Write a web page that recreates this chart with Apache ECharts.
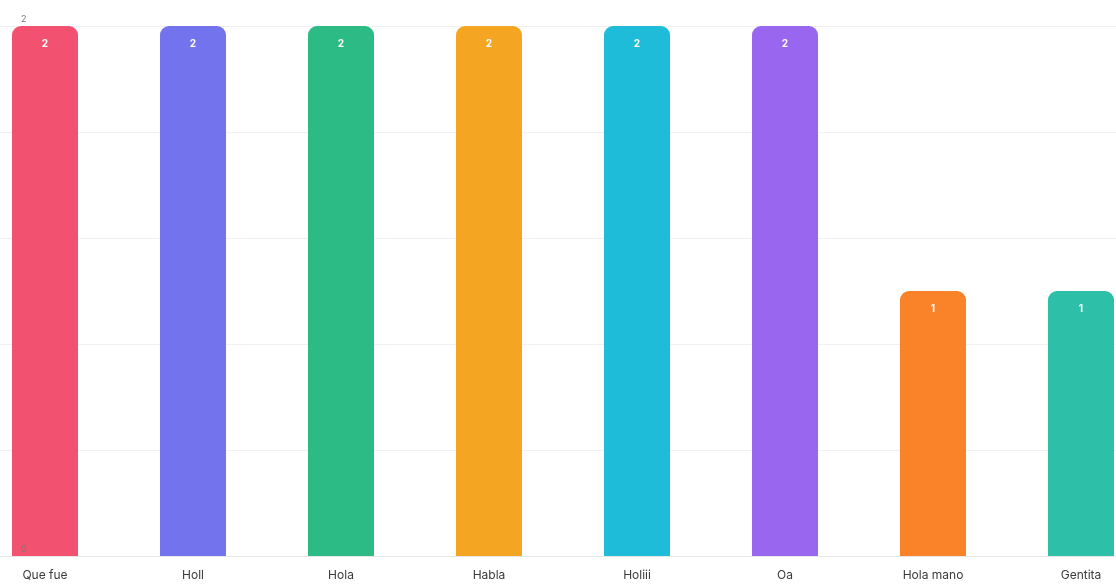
<!DOCTYPE html>
<html>
<head>
<meta charset="utf-8">
<script src="https://cdn.jsdelivr.net/npm/echarts@6/dist/echarts.min.js"></script>
<style>
  html, body { margin: 0; padding: 0; background: #ffffff; overflow: hidden; }
  #wrap { width: 1116px; height: 584px; overflow: hidden; position: relative; }
  /* the plot is wider than the view; first and last bands are partly cut off */
  #chart { width: 1184px; height: 584px; position: absolute; left: -29px; top: 0; }
</style>
</head>
<body>
<div id="wrap"><div id="chart"></div></div>
<script>
// Answer counts per greeting
const categories = ['Que fue', 'Holl', 'Hola', 'Habla', 'Holiii', 'Oa', 'Hola mano', 'Gentita'];
const counts = [2, 2, 2, 2, 2, 2, 1, 1];
const barColors = ['#F25270', '#7373EE', '#2CBB84', '#F4A623', '#1EBCD8', '#9966F0', '#FA8228', '#2DBFA8'];
const yMin = 0;
const yMax = 2;
const yStep = 0.4;

const chart = echarts.init(document.getElementById('chart'));

const fontFamily = 'Inter, "Noto Sans", sans-serif';

chart.setOption({
  backgroundColor: '#ffffff',
  animation: false,
  grid: { left: 0, right: 0, top: 26, bottom: 28, containLabel: false },
  xAxis: {
    type: 'category',
    data: categories,
    axisLine: { show: true, lineStyle: { color: '#e6e6e6', width: 1 } },
    axisTick: { show: false },
    axisLabel: {
      color: '#3a3a3a',
      fontFamily: fontFamily,
      fontSize: 12,
      margin: 13,
      interval: 0
    }
  },
  yAxis: [
    {
      // gridlines behind the bars
      type: 'value',
      min: yMin,
      max: yMax,
      interval: yStep,
      axisLine: { show: false },
      axisTick: { show: false },
      axisLabel: { show: false },
      splitLine: { show: true, lineStyle: { color: '#f0f0f0', width: 1 } }
    },
    {
      // min / max tick labels drawn on top
      type: 'value',
      position: 'left',
      z: 10,
      min: yMin,
      max: yMax,
      interval: yStep,
      axisLine: { show: false },
      axisTick: { show: false },
      splitLine: { show: false },
      axisLabel: {
        inside: true,
        margin: 50,
        showMinLabel: true,
        showMaxLabel: true,
        color: '#777',
        fontSize: 9,
        fontFamily: fontFamily,
        verticalAlign: 'bottom',
        padding: [0, 0, 2, 0],
        formatter: v => (v === yMin || v === yMax) ? String(v) : ''
      }
    }
  ],
  series: [{
    type: 'bar',
    yAxisIndex: 0,
    barWidth: 66,
    data: counts.map((v, i) => ({
      value: v,
      itemStyle: { color: barColors[i], borderRadius: [9, 9, 0, 0] }
    })),
    label: {
      show: true,
      position: 'insideTop',
      distance: 13,
      color: '#ffffff',
      fontSize: 10,
      fontWeight: 'bold',
      fontFamily: fontFamily
    }
  }]
});
</script>
</body>
</html>
